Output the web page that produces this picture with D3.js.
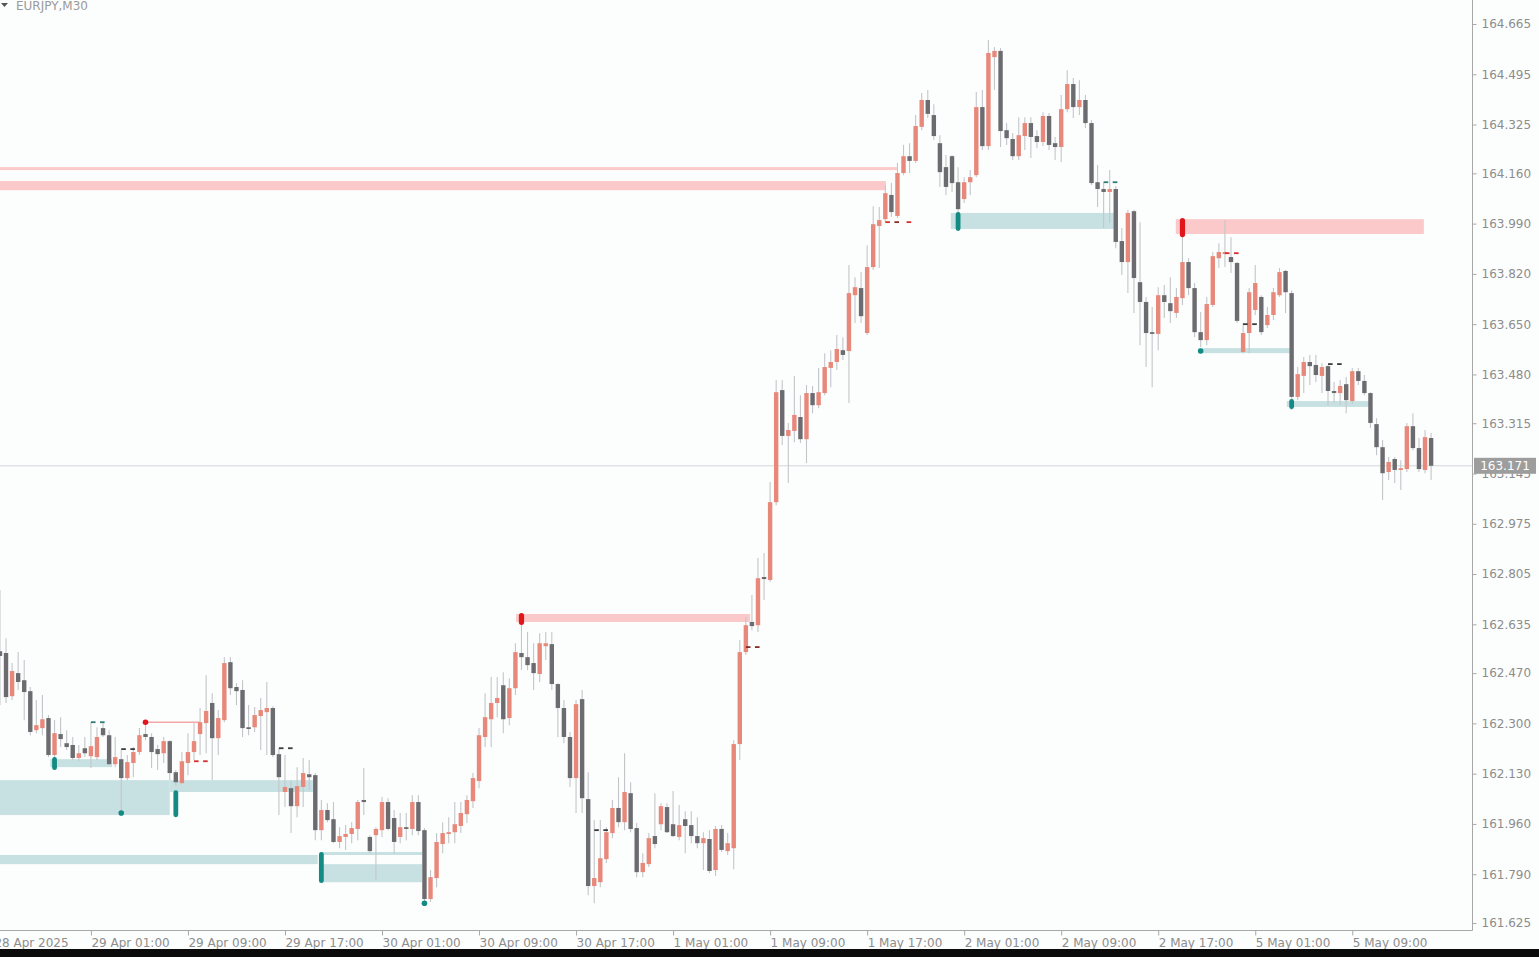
<!DOCTYPE html>
<html>
<head>
<meta charset="utf-8">
<script src="https://cdn.jsdelivr.net/npm/d3@7"></script>
<style>
  html, body { margin: 0; padding: 0; background: #fcfdfd; overflow: hidden; }
  svg { display: block; }
  text { font-family: "DejaVu Sans", "Noto Sans", sans-serif; }
</style>
</head>
<body>
<svg id="chart" width="1539" height="957"></svg>
<script>
// EURJPY M30 bars, 28 Apr 17:30 .. 5 May 15:30 (oldest first)
const open = [
  162.544,162.538,162.392,162.470,162.446,162.409,162.277,162.284,162.318,162.193,
  162.264,162.233,162.227,162.183,162.216,162.189,162.186,162.284,162.260,162.162,
  162.179,162.115,162.166,162.203,162.264,162.254,162.213,162.199,162.240,162.135,
  162.098,162.166,162.203,162.264,162.301,162.369,162.250,162.311,162.507,162.423,
  162.413,162.287,162.287,162.325,162.338,162.352,162.196,162.068,162.081,162.020,
  162.085,162.128,162.125,161.939,162.007,161.976,161.899,161.916,161.926,161.943,
  162.041,161.916,161.922,161.939,162.034,161.980,161.916,161.949,161.943,162.034,
  161.939,161.706,161.777,161.892,161.926,161.932,161.953,161.993,162.037,162.105,
  162.254,162.314,162.369,162.429,162.318,162.419,162.538,162.524,162.504,162.467,
  162.561,162.568,162.433,162.352,162.254,162.115,162.382,162.044,161.750,161.763,
  161.841,161.929,162.014,161.966,162.064,161.946,161.797,161.824,161.919,161.959,
  162.017,161.959,161.916,161.976,161.956,161.919,161.895,161.909,161.804,161.943,
  161.868,161.878,162.230,162.541,162.643,162.632,162.795,162.785,163.048,163.427,
  163.272,163.289,163.336,163.261,163.417,163.376,163.417,163.502,163.522,163.562,
  163.559,163.748,163.772,163.620,163.843,163.982,164.005,164.087,164.016,164.161,
  164.218,164.202,164.317,164.408,164.357,164.262,164.181,164.218,164.130,164.073,
  164.130,164.154,164.384,164.252,164.553,164.574,164.306,164.276,164.218,164.286,
  164.330,164.286,164.266,164.354,164.262,164.249,164.377,164.462,164.384,164.408,
  164.330,164.130,164.107,164.097,164.107,163.931,163.860,164.032,163.792,163.725,
  163.623,163.617,163.748,163.721,163.688,163.738,163.860,163.772,163.623,163.596,
  163.715,163.873,163.887,163.877,163.857,163.556,163.620,163.698,163.742,163.647,
  163.681,163.748,163.830,163.755,163.404,163.475,163.522,163.512,163.475,163.508,
  163.424,163.417,163.447,163.390,163.491,163.458,163.417,163.312,163.234,163.150,
  163.194,163.157,163.160,163.305,163.231,163.157,163.265
];
const high = [
  162.751,162.588,162.504,162.541,162.514,162.423,162.379,162.396,162.328,162.311,
  162.321,162.277,162.254,162.227,162.254,162.304,162.287,162.301,162.277,162.254,
  162.210,162.193,162.220,162.284,162.311,162.267,162.227,162.254,162.243,162.142,
  162.203,162.267,162.301,162.352,162.463,162.402,162.345,162.524,162.524,162.436,
  162.446,162.362,162.355,162.386,162.440,162.358,162.216,162.193,162.108,162.152,
  162.183,162.176,162.132,162.041,162.030,162.034,161.949,161.956,161.966,162.041,
  162.149,161.922,161.949,162.051,162.047,162.007,161.997,161.997,162.057,162.057,
  161.946,161.804,161.929,161.966,161.983,162.034,162.034,162.057,162.132,162.284,
  162.402,162.457,162.457,162.473,162.453,162.571,162.656,162.609,162.571,162.605,
  162.609,162.609,162.436,162.379,162.271,162.379,162.413,162.135,161.973,161.973,
  161.949,162.041,162.118,162.199,162.101,161.963,161.861,161.929,162.064,162.030,
  162.030,162.071,162.024,162.003,162.003,161.983,161.932,161.939,161.953,161.956,
  161.929,162.243,162.582,162.659,162.734,162.859,162.876,163.116,163.461,163.461,
  163.316,163.475,163.410,163.444,163.441,163.502,163.552,163.562,163.613,163.606,
  163.850,163.809,163.826,163.917,164.049,164.046,164.120,164.127,164.195,164.256,
  164.262,164.357,164.432,164.442,164.394,164.289,164.222,164.222,164.181,164.147,
  164.171,164.435,164.442,164.611,164.587,164.584,164.330,164.296,164.350,164.350,
  164.350,164.306,164.367,164.364,164.283,164.425,164.509,164.482,164.475,164.425,
  164.340,164.188,164.130,164.171,164.117,163.975,164.036,164.036,163.995,163.742,
  163.708,163.775,163.782,163.809,163.772,164.002,163.873,163.789,163.691,163.742,
  163.894,163.924,164.002,163.944,163.860,163.654,163.772,163.850,163.748,163.708,
  163.772,163.840,163.833,163.765,163.505,163.539,163.546,163.546,163.518,163.512,
  163.454,163.461,163.471,163.502,163.502,163.478,163.420,163.332,163.258,163.201,
  163.201,163.190,163.316,163.349,163.265,163.292,163.282
];
const low = [
  162.362,162.369,162.379,162.413,162.311,162.260,162.267,162.260,162.186,162.183,
  162.220,162.210,162.176,162.172,162.186,162.149,162.176,162.254,162.159,162.152,
  161.997,162.108,162.118,162.193,162.243,162.149,162.142,162.166,162.108,162.088,
  162.095,162.125,162.176,162.193,162.199,162.108,162.193,162.304,162.396,162.362,
  162.254,162.260,162.271,162.210,162.193,162.186,161.990,162.017,161.929,161.983,
  162.017,162.074,161.905,161.905,161.966,161.895,161.878,161.872,161.895,161.905,
  161.990,161.861,161.770,161.916,161.939,161.861,161.895,161.905,161.922,161.922,
  161.692,161.696,161.746,161.861,161.895,161.895,161.929,161.963,162.014,162.081,
  162.220,162.220,162.321,162.267,162.294,162.396,162.480,162.480,162.413,162.440,
  162.514,162.413,162.254,162.233,162.085,161.997,161.997,161.719,161.692,161.746,
  161.828,161.912,161.949,161.939,161.932,161.780,161.780,161.814,161.878,161.939,
  161.929,161.916,161.905,161.861,161.895,161.878,161.804,161.794,161.784,161.865,
  161.855,161.807,162.176,162.531,162.615,162.609,162.717,162.778,163.038,163.241,
  163.113,163.251,163.248,163.180,163.349,163.366,163.410,163.437,163.495,163.529,
  163.383,163.654,163.654,163.613,163.833,163.840,163.995,164.012,164.009,164.154,
  164.161,164.195,164.306,164.347,164.273,164.114,164.087,164.097,164.029,164.060,
  164.087,164.147,164.239,164.239,164.442,164.249,164.256,164.205,164.205,164.239,
  164.212,164.246,164.252,164.239,164.205,164.198,164.367,164.347,164.357,164.313,
  164.120,164.046,163.975,163.992,163.907,163.816,163.755,163.688,163.579,163.505,
  163.437,163.562,163.671,163.654,163.671,163.715,163.748,163.606,163.573,163.579,
  163.708,163.840,163.843,163.823,163.654,163.552,163.552,163.681,163.613,163.637,
  163.664,163.742,163.688,163.360,163.393,163.417,163.444,163.454,163.417,163.376,
  163.383,163.376,163.349,163.380,163.444,163.410,163.299,163.207,163.055,163.123,
  163.113,163.089,163.150,163.224,163.150,163.146,163.123
];
const close = [
  162.528,162.389,162.477,162.440,162.406,162.271,162.294,162.314,162.193,162.267,
  162.247,162.220,162.183,162.199,162.199,162.223,162.254,162.260,162.162,162.186,
  162.115,162.169,162.203,162.260,162.254,162.203,162.196,162.240,162.132,162.101,
  162.172,162.203,162.240,162.304,162.342,162.250,162.318,162.504,162.419,162.409,
  162.284,162.281,162.328,162.345,162.352,162.193,162.118,162.085,162.020,162.088,
  162.132,162.118,161.939,162.007,161.973,161.899,161.919,161.926,161.946,162.034,
  162.034,161.868,161.943,162.034,161.943,161.899,161.949,161.943,162.034,161.936,
  161.706,161.780,161.899,161.929,161.932,161.959,161.997,162.041,162.115,162.260,
  162.321,162.369,162.386,162.314,162.419,162.541,162.524,162.497,162.470,162.571,
  162.571,162.433,162.352,162.254,162.115,162.365,162.047,161.750,161.777,161.844,
  161.932,162.014,161.966,162.068,161.943,161.797,161.828,161.912,161.892,162.020,
  161.932,161.919,161.956,161.953,161.919,161.895,161.912,161.801,161.943,161.872,
  161.895,162.230,162.541,162.632,162.629,162.791,162.788,163.048,163.420,163.272,
  163.292,163.343,163.261,163.417,163.376,163.420,163.505,163.522,163.566,163.546,
  163.755,163.775,163.677,163.843,163.988,164.002,164.093,164.029,164.161,164.218,
  164.202,164.320,164.408,164.361,164.286,164.164,164.114,164.127,164.039,164.130,
  164.147,164.384,164.252,164.567,164.574,164.303,164.279,164.218,164.289,164.330,
  164.283,164.266,164.354,164.256,164.249,164.377,164.462,164.384,164.408,164.330,
  164.127,164.107,164.097,164.107,163.928,163.860,164.026,163.806,163.725,163.620,
  163.617,163.748,163.725,163.694,163.742,163.860,163.772,163.623,163.596,163.718,
  163.880,163.894,163.894,163.860,163.661,163.620,163.758,163.789,163.623,163.681,
  163.758,163.826,163.758,163.404,163.481,163.522,163.508,163.478,163.505,163.424,
  163.417,163.441,163.393,163.491,163.458,163.417,163.316,163.234,163.146,163.184,
  163.157,163.163,163.305,163.231,163.160,163.268,163.171
];

// Time axis labels: bar position (0 = first bar) and text
const xTickBars = [-1, 15, 31, 47, 63, 79, 95, 111, 127, 143, 159, 175, 191, 207, 223];
const xTickText = ["28 Apr 2025", "29 Apr 01:00", "29 Apr 09:00", "29 Apr 17:00", "30 Apr 01:00",
  "30 Apr 09:00", "30 Apr 17:00", "1 May 01:00", "1 May 09:00", "1 May 17:00", "2 May 01:00",
  "2 May 09:00", "2 May 17:00", "5 May 01:00", "5 May 09:00"];

// Price axis labels
const yTickText = ["164.665", "164.495", "164.325", "164.160", "163.990", "163.820", "163.650",
  "163.480", "163.315", "163.145", "162.975", "162.805", "162.635", "162.470", "162.300",
  "162.130", "161.960", "161.790", "161.625"];

// Supply zones: [fromBar, toBar, upper price, lower price]
const supplyZones = [
  [-2, 147.9, 164.181, 164.171],
  [-2, 146.1, 164.134, 164.103],
  [85.1, 123.7, 162.670, 162.643],
  [193.9, 234.8, 164.005, 163.955]
];
// Short resistance line: [fromBar, toBar, price]
const supplyLines = [[23.9, 33, 162.304]];

// Demand zones: [fromBar, toBar, upper price, lower price]
const demandZones = [
  [156.8, 184.2, 164.026, 163.972],
  [197.6, 212.7, 163.569, 163.552],
  [212.2, 225.9, 163.390, 163.370],
  [8.3, 18.5, 162.179, 162.152],
  [-2, 28, 162.108, 161.990],
  [28, 51.6, 162.108, 162.068],
  [-2, 52.4, 161.855, 161.824],
  [52.8, 69.6, 161.865, 161.855],
  [52.8, 69.6, 161.824, 161.763]
];

// Zone origin markers: [bar, upper price, lower price]
const supplyMarks = [[86, 162.673, 162.633], [195, 164.009, 163.944]];
const demandMarks = [[158, 164.029, 163.965], [213, 163.397, 163.363], [9, 162.186, 162.142],
  [29, 162.074, 161.983], [53, 161.865, 161.760]];
// Pivot dots: [bar, price]
const supplyDots = [[24, 162.304]];
const demandDots = [[198, 163.559], [20, 161.997], [70, 161.692]];

// Small level dashes: [bar, price, kind]
const levelDashes = [
  [15, 162.304, "t"], [16.5, 162.304, "t"],
  [20, 162.213, "d"], [21.5, 162.213, "d"],
  [32, 162.172, "r"], [33.5, 162.172, "r"],
  [46, 162.216, "d"], [47.5, 162.216, "d"],
  [98, 161.939, "d"], [99.5, 161.939, "d"],
  [123, 162.558, "m"], [124.5, 162.558, "m"],
  [146, 163.995, "r"], [147.5, 163.995, "m"], [149.5, 163.995, "r"],
  [182, 164.130, "t"], [183.5, 164.130, "t"],
  [202, 163.890, "r"], [203.5, 163.890, "r"],
  [205, 163.650, "d"], [206.5, 163.650, "d"],
  [219, 163.515, "d"], [220.5, 163.515, "d"]
];

const bars = open.map((o, i) => ({ i, o, h: high[i], l: low[i], c: close[i] }));
const lastClose = close[close.length - 1];

const W = 1539, H = 957;
const plotRight = 1472, plotBottom = 930;

const x = d3.scaleLinear().domain([0, 236]).range([-0.04, 1431.1]);
const y = d3.scaleLinear().domain([161.625, 164.665]).range([923, 24]);

const C = {
  bg: "#fcfdfd",
  bull: "#e8887a",
  bear: "#6c6c70",
  wick: "#c3c6c9",
  supply: "#fbc9c9",
  supplyLine: "#f3a9a9",
  demand: "#c7e1e3",
  demandMark: "#138a83",
  supplyMark: "#e0161a",
  axis: "#a8a8a8",
  text: "#8d8d8d",
  priceLine: "#d4d8dc",
  priceBox: "#9d9d9d"
};
const dashColor = { t: "#2f7c78", d: "#3b3b3e", r: "#d4302e", m: "#8a2b2b" };

const svg = d3.select("#chart");
svg.append("rect").attr("width", W).attr("height", H).attr("fill", C.bg);

const plot = svg.append("g");
plot.append("clipPath").attr("id", "plotclip")
  .append("rect").attr("x", 0).attr("y", 0).attr("width", plotRight).attr("height", plotBottom);
const g = plot.append("g").attr("clip-path", "url(#plotclip)");

// zones
g.selectAll("rect.supply").data(supplyZones).join("rect")
  .attr("x", d => x(d[0])).attr("width", d => x(d[1]) - x(d[0]))
  .attr("y", d => y(d[2])).attr("height", d => Math.max(2, y(d[3]) - y(d[2])))
  .attr("fill", C.supply);
g.selectAll("line.supplyline").data(supplyLines).join("line")
  .attr("x1", d => x(d[0])).attr("x2", d => x(d[1]))
  .attr("y1", d => y(d[2])).attr("y2", d => y(d[2]))
  .attr("stroke", C.supplyLine).attr("stroke-width", 1.6);
g.selectAll("rect.demand").data(demandZones).join("rect")
  .attr("x", d => x(d[0])).attr("width", d => x(d[1]) - x(d[0]))
  .attr("y", d => y(d[2])).attr("height", d => Math.max(2, y(d[3]) - y(d[2])))
  .attr("fill", C.demand);

// current price line
g.append("line")
  .attr("x1", 0).attr("x2", plotRight)
  .attr("y1", y(lastClose)).attr("y2", y(lastClose))
  .attr("stroke", C.priceLine).attr("stroke-width", 1);

// wicks
g.selectAll("line.wick").data(bars).join("line")
  .attr("x1", d => x(d.i)).attr("x2", d => x(d.i))
  .attr("y1", d => y(d.h)).attr("y2", d => y(d.l))
  .attr("stroke", C.wick).attr("stroke-width", 1.1);

// bodies
const bodyW = 4.4;
g.selectAll("rect.body").data(bars).join("rect")
  .attr("x", d => x(d.i) - bodyW / 2).attr("width", bodyW)
  .attr("y", d => y(Math.max(d.o, d.c)))
  .attr("height", d => Math.max(1.6, Math.abs(y(d.o) - y(d.c))))
  .attr("fill", d => d.c >= d.o ? C.bull : C.bear);

// zone origin markers
g.selectAll("rect.smark").data(supplyMarks).join("rect")
  .attr("x", d => x(d[0]) - 2.6).attr("width", 5.2)
  .attr("y", d => y(d[1])).attr("height", d => y(d[2]) - y(d[1]))
  .attr("rx", 2.6).attr("fill", C.supplyMark);
g.selectAll("rect.dmark").data(demandMarks).join("rect")
  .attr("x", d => x(d[0]) - 2.4).attr("width", 4.8)
  .attr("y", d => y(d[1])).attr("height", d => y(d[2]) - y(d[1]))
  .attr("rx", 2.4).attr("fill", C.demandMark);
g.selectAll("circle.sdot").data(supplyDots).join("circle")
  .attr("cx", d => x(d[0])).attr("cy", d => y(d[1])).attr("r", 2.8).attr("fill", C.supplyMark);
g.selectAll("circle.ddot").data(demandDots).join("circle")
  .attr("cx", d => x(d[0])).attr("cy", d => y(d[1])).attr("r", 2.8).attr("fill", C.demandMark);

// level dashes
g.selectAll("rect.dash").data(levelDashes).join("rect")
  .attr("x", d => x(d[0])).attr("width", 4.6)
  .attr("y", d => y(d[1]) - 0.9).attr("height", 1.8)
  .attr("fill", d => dashColor[d[2]]);

// price axis
const yAxis = d3.axisRight(y)
  .tickValues(yTickText.map(Number))
  .tickFormat((d, i) => yTickText[i])
  .tickSize(4).tickPadding(5);
const ya = svg.append("g").attr("transform", `translate(${plotRight + 0.5},0)`).call(yAxis);
ya.select(".domain").remove();
ya.selectAll(".tick line").attr("stroke", C.axis);
ya.selectAll(".tick text").attr("fill", C.text).attr("font-size", 12)
  .attr("font-family", "DejaVu Sans, sans-serif");
svg.append("line").attr("x1", plotRight + 0.5).attr("x2", plotRight + 0.5)
  .attr("y1", 0).attr("y2", plotBottom + 0.5).attr("stroke", C.axis);

// time axis
const xAxis = d3.axisBottom(x)
  .tickValues(xTickBars)
  .tickFormat((d, i) => xTickText[i])
  .tickSize(5).tickPadding(3);
const xa = svg.append("g").attr("transform", `translate(0,${plotBottom + 0.5})`).call(xAxis);
xa.select(".domain").remove();
xa.selectAll(".tick line").attr("stroke", C.axis);
xa.selectAll(".tick text").attr("fill", C.text).attr("font-size", 12)
  .attr("text-anchor", "start").attr("font-family", "DejaVu Sans, sans-serif");
svg.append("line").attr("x1", 0).attr("x2", plotRight + 0.5)
  .attr("y1", plotBottom + 0.5).attr("y2", plotBottom + 0.5).attr("stroke", C.axis);

// last price tag
const tagY = y(lastClose);
svg.append("rect").attr("x", plotRight + 2).attr("y", tagY - 8)
  .attr("width", 62).attr("height", 16).attr("fill", C.priceBox);
svg.append("text").attr("x", plotRight + 33).attr("y", tagY + 4.5)
  .attr("text-anchor", "middle").attr("fill", "#ffffff").attr("font-size", 12)
  .text(lastClose.toFixed(3));

// symbol caption
svg.append("path").attr("d", "M1,3 L8,3 L4.5,7 Z").attr("fill", "#555");
svg.append("text").attr("x", 16).attr("y", 10).attr("fill", "#9a9a9a")
  .attr("font-size", 12).text("EURJPY,M30");

// bottom frame strip
svg.append("rect").attr("x", 0).attr("y", 949).attr("width", W).attr("height", H - 949)
  .attr("fill", "#0b0b0b");
</script>
</body>
</html>
